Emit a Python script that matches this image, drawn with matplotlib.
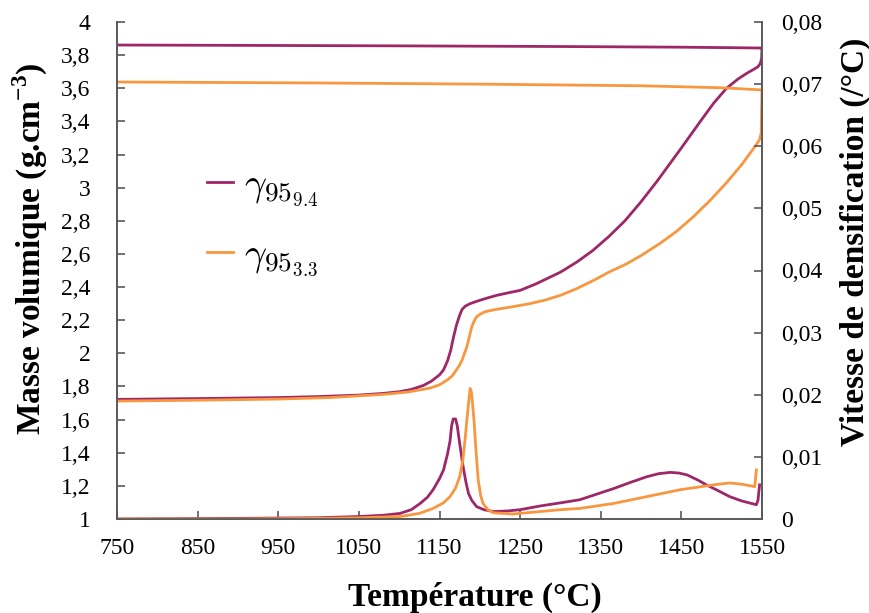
import numpy as np
import matplotlib
matplotlib.use("Agg")
import matplotlib.pyplot as plt

plt.rcParams["font.family"] = ["Liberation Serif", "DejaVu Serif"]
plt.rcParams["mathtext.fontset"] = "custom"
plt.rcParams["mathtext.rm"] = "Liberation Serif"
plt.rcParams["mathtext.bf"] = "Liberation Serif:bold"

# Density, gamma 95 (9.4): heating, then isotherm + cooling back to 750
t_den_a_heat = [750, 850, 950, 1000, 1050, 1080, 1100, 1115, 1130, 1140, 1150, 1155, 1160, 1164, 1167,
                1171, 1175, 1178, 1182, 1188, 1195, 1200, 1210, 1221, 1235, 1250, 1270, 1300, 1320,
                1340, 1360, 1380, 1400, 1420, 1435, 1450, 1475, 1490, 1506, 1520, 1531, 1540, 1545,
                1548, 1549.5, 1550]
rho_a_heat = [1.722, 1.727, 1.733, 1.739, 1.748, 1.758, 1.768, 1.782, 1.806, 1.832, 1.87, 1.90, 1.955,
              2.02, 2.09, 2.17, 2.23, 2.265, 2.285, 2.30, 2.312, 2.32, 2.335, 2.35, 2.365, 2.38, 2.42,
              2.49, 2.55, 2.62, 2.705, 2.80, 2.915, 3.04, 3.14, 3.24, 3.41, 3.51, 3.60, 3.655, 3.69,
              3.715, 3.73, 3.75, 3.78, 3.84]
t_den_a_cool = [1550, 1450, 1300, 1100, 900, 750]
rho_a_cool = [3.843, 3.848, 3.852, 3.856, 3.859, 3.861]

# Density, gamma 95 (3.3)
t_den_b_heat = [750, 850, 950, 1014, 1080, 1110, 1138, 1150, 1160, 1166, 1171, 1175, 1178, 1181, 1184,
                1187, 1190, 1193, 1196, 1200, 1205, 1210, 1220, 1229, 1245, 1262, 1280, 1300, 1320,
                1341, 1360, 1382, 1400, 1424, 1445, 1465, 1485, 1506, 1525, 1543, 1547, 1549, 1550]
rho_b_heat = [1.712, 1.717, 1.724, 1.733, 1.752, 1.766, 1.79, 1.81, 1.84, 1.865, 1.90, 1.93, 1.96, 2.00,
              2.04, 2.10, 2.16, 2.195, 2.22, 2.235, 2.248, 2.255, 2.265, 2.272, 2.285, 2.30, 2.32, 2.35,
              2.39, 2.44, 2.49, 2.54, 2.59, 2.665, 2.74, 2.825, 2.92, 3.03, 3.14, 3.26, 3.29, 3.33, 3.585]
t_den_b_cool = [1550, 1500, 1400, 1200, 1000, 750]
rho_b_cool = [3.59, 3.603, 3.615, 3.625, 3.632, 3.638]

# Densification rate (/°C)
t_rate_a = [750, 900, 1000, 1050, 1080, 1101, 1115, 1126, 1135, 1142, 1150, 1155, 1160, 1163, 1165,
            1167, 1170, 1172, 1175, 1178, 1180, 1183, 1186, 1190, 1196, 1205, 1217, 1235, 1250, 1275,
            1300, 1324, 1345, 1366, 1387, 1407, 1422, 1436, 1447, 1457, 1470, 1481, 1495, 1510, 1525,
            1543, 1545, 1547]
rate_a = [0.0, 0.0001, 0.0002, 0.0004, 0.0006, 0.0009, 0.0015, 0.0025, 0.0035, 0.0047, 0.0065, 0.0079,
          0.0105, 0.0125, 0.0150, 0.0161, 0.0161, 0.0150, 0.0122, 0.0095, 0.0079, 0.0058, 0.0041,
          0.0030, 0.0020, 0.0015, 0.0012, 0.0013, 0.0015, 0.0021, 0.0026, 0.0031, 0.0040, 0.0049,
          0.0059, 0.0068, 0.0073, 0.0075, 0.0074, 0.0071, 0.0063, 0.0055, 0.0046, 0.0036, 0.0029,
          0.0023, 0.0030, 0.0055]
t_rate_b = [750, 900, 1000, 1050, 1101, 1125, 1142, 1155, 1163, 1170, 1175, 1179, 1182, 1184, 1186,
            1188, 1189.5, 1191, 1193, 1195, 1198, 1201, 1204, 1210, 1217, 1241, 1275, 1300, 1324, 1366,
            1407, 1448, 1490, 1510, 1525, 1541, 1543]
rate_b = [0.0, 0.0, 0.0001, 0.0002, 0.0004, 0.0009, 0.0017, 0.0026, 0.0036, 0.0050, 0.0068, 0.0095,
          0.0132, 0.0160, 0.0186, 0.0210, 0.0205, 0.0186, 0.0155, 0.0115, 0.0063, 0.0038, 0.0025,
          0.0015, 0.0010, 0.0008, 0.0012, 0.0015, 0.0017, 0.0025, 0.0036, 0.0047, 0.0055, 0.0058,
          0.0056, 0.0052, 0.0079]

purple = "#9E2767"
orange = "#F8973F"
spine_col = "#595959"

fig = plt.figure(figsize=(8.7, 6.13), dpi=100)
ax = fig.add_axes([117 / 870, 1 - 519 / 613, (762 - 117) / 870, (519 - 22) / 613])
ax2 = ax.twinx()

lw = 2.0
ax.plot(t_den_a_heat + t_den_a_cool, rho_a_heat + rho_a_cool, color=purple, lw=lw,
        label=r"$\gamma_{95_{9.4}}$")
ax.plot(t_den_b_heat + t_den_b_cool, rho_b_heat + rho_b_cool, color=orange, lw=lw,
        label=r"$\gamma_{95_{3.3}}$")
ax2.plot(t_rate_a, rate_a, color=purple, lw=lw)
ax2.plot(t_rate_b, rate_b, color=orange, lw=lw)

ax.set_xlim(750, 1550)
ax.set_ylim(1, 4)
ax2.set_ylim(0, 0.08)

xticks = np.arange(750, 1551, 100)
ax.set_xticks(xticks)
ax.set_xticklabels([str(v) for v in xticks])
yticks = np.arange(1, 4.01, 0.2)
ax.set_yticks(yticks)
ax.set_yticklabels([f"{v:g}".replace(".", ",") for v in np.round(yticks, 1)])
y2ticks = np.arange(0, 0.081, 0.01)
ax2.set_yticks(y2ticks)
ax2.set_yticklabels(["0"] + [f"{v:.2f}".replace(".", ",") for v in y2ticks[1:]])

for a in (ax, ax2):
    a.spines["top"].set_visible(False)
    for s in ("left", "right", "bottom"):
        a.spines[s].set_color(spine_col)
        a.spines[s].set_linewidth(1.2)
    a.tick_params(direction="in", length=6, width=1.2, color=spine_col, labelsize=17)
ax.tick_params(axis="y", pad=19)
ax.tick_params(axis="x", pad=14)
ax2.tick_params(axis="y", pad=14)

leg = ax.legend(loc="center left", bbox_to_anchor=(0.14, 0.595), frameon=False, fontsize=28,
                handlelength=0.65, handletextpad=0.3, labelspacing=0.75, borderpad=0, borderaxespad=0)
for t in leg.get_texts():
    t.set_math_fontfamily("cm")

fig.text(0.0345, 0.595, r"Masse volumique (g.cm$^{\mathbf{-3}}$)", rotation=90, ha="center", va="center",
         fontsize=24, fontweight="bold")
fig.text(0.983, 0.605, "Vitesse de densification (/°C)", rotation=90, ha="center", va="center",
         fontsize=24, fontweight="bold")
fig.text(0.546, 0.026, "Température (°C)", ha="center", va="center", fontsize=24, fontweight="bold")

fig.savefig("out.png", dpi=100)
